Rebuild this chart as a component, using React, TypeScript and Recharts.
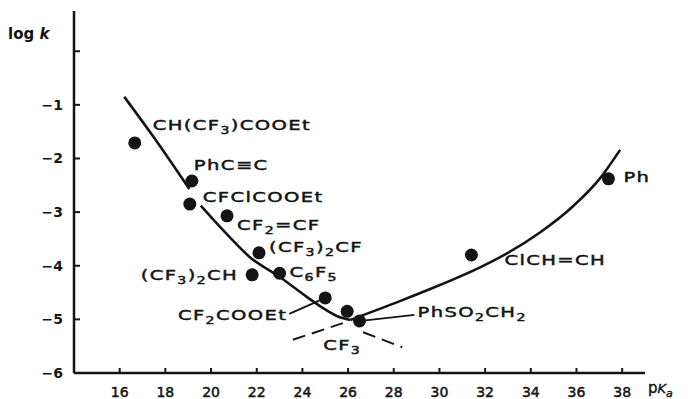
import React from "react";
import { ComposedChart, Line, Scatter, XAxis, YAxis } from "recharts";

// axis ticks
const xTicks = [16, 18, 20, 22, 24, 26, 28, 30, 32, 34, 36, 38];
const yTicks = [0, -1, -2, -3, -4, -5, -6];

// measured compounds ( "_" marks a subscript character )
const compounds = [
  "CH(CF_3)COOEt",
  "PhC≡C",
  "CFClCOOEt",
  "CF_2=CF",
  "(CF_3)_2CF",
  "(CF_3)_2CH",
  "C_6F_5",
  "CF_2COOEt",
  "CF_3",
  "PhSO_2CH_2",
  "ClCH=CH",
  "Ph",
];
const pKa = [16.66, 19.16, 19.07, 20.7, 22.1, 21.8, 23.0, 25.0, 25.96, 26.5, 31.4, 37.4];
const logK = [-1.71, -2.42, -2.85, -3.07, -3.76, -4.17, -4.14, -4.6, -4.85, -5.03, -3.8, -2.38];

// fitted curve
const upperX = [16.2, 17.4, 19.05];
const upperY = [-0.85, -1.55, -2.57];
const leftX = [19.55, 20.6, 21.7, 23.01, 24.19, 24.98, 25.64, 26.1];
const leftY = [-2.88, -3.37, -3.84, -4.21, -4.58, -4.81, -4.96, -5.01];
const rightX = [26.1, 28.27, 30.02, 31.78, 32.96, 34.4, 35.85, 37.03, 37.91];
const rightY = [-5.01, -4.66, -4.36, -4.03, -3.77, -3.38, -2.89, -2.37, -1.84];

// dashed CF3 continuations
const dashLeftX = [23.58, 25.77];
const dashLeftY = [-5.38, -5.07];
const dashRightX = [26.66, 28.37];
const dashRightY = [-5.24, -5.52];

// where each label sits relative to its dot (pixels)
const labelLayout: { dx: number; dy: number; anchor?: string; leader?: boolean }[] = [
  { dx: 18, dy: -18 },
  { dx: 2, dy: -16 },
  { dx: 13, dy: -7 },
  { dx: 10, dy: 9 },
  { dx: 10, dy: -6 },
  { dx: -14, dy: 0, anchor: "end" },
  { dx: 10, dy: -1 },
  { dx: -38, dy: 17, anchor: "end", leader: true },
  { dx: -24, dy: 34 },
  { dx: 58, dy: -9, leader: true },
  { dx: 33, dy: 5 },
  { dx: 15, dy: -2 },
];

const zip = (xs: number[], ys: number[]) => xs.map((x, i) => ({ x, y: ys[i] }));
const points = compounds.map((name, i) => ({ name, idx: i, x: pKa[i], y: logK[i] }));

const INK = "#141414";
const FONT = "'DejaVu Sans', sans-serif";

const Formula = ({ text, x, y, anchor = "start" }: any) => {
  const parts = text.split(/_(.)/);
  const spans: any[] = [];
  let shifted = false;
  parts.forEach((p: string, i: number) => {
    if (!p) return;
    if (i % 2 === 1) {
      spans.push(
        <tspan key={i} dy={shifted ? 0 : 4} fontSize={10.5}>
          {p}
        </tspan>
      );
      shifted = true;
    } else {
      spans.push(
        <tspan key={i} dy={shifted ? -4 : 0}>
          {p}
        </tspan>
      );
      shifted = false;
    }
  });
  return (
    <g transform={`translate(${x},${y}) scale(1.35,1)`}>
      <text
        x={0}
        y={0}
        textAnchor={anchor}
        fontFamily={FONT}
        fontSize={14.5}
        letterSpacing={1}
        fill={INK}
        stroke={INK}
        strokeWidth={0.45}
      >
        {spans}
      </text>
    </g>
  );
};

const renderPoint = (props: any) => {
  const { cx, cy, payload } = props;
  const lay = labelLayout[payload.idx];
  const lx = cx + lay.dx;
  const ly = cy + lay.dy;
  let leader = null;
  if (lay.leader) {
    const ex = lx + (lay.anchor === "end" ? 2 : -3);
    const ey = ly + (lay.anchor === "end" ? -1 : 3);
    const len = Math.hypot(ex - cx, ey - cy);
    leader = (
      <line
        x1={cx + ((ex - cx) / len) * 6}
        y1={cy + ((ey - cy) / len) * 6}
        x2={ex}
        y2={ey}
        stroke={INK}
        strokeWidth={1.8}
      />
    );
  }
  return (
    <g>
      {leader}
      <circle cx={cx} cy={cy} r={6.5} fill={INK} />
      <Formula text={payload.name} x={lx} y={ly + 5} anchor={lay.anchor} />
    </g>
  );
};

const XTick = (props: any) => {
  const { x, y, payload } = props;
  return (
    <g>
      <line x1={x} x2={x} y1={y} y2={y - 5} stroke={INK} strokeWidth={2} />
      <text
        x={x}
        y={y + 24}
        textAnchor="middle"
        fontFamily={FONT}
        fontSize={14}
        fill={INK}
        stroke={INK}
        strokeWidth={0.5}
      >
        {payload.value}
      </text>
    </g>
  );
};

const YTick = (props: any) => {
  const { x, y, payload } = props;
  return (
    <g>
      <line x1={x} x2={x + 6} y1={y} y2={y} stroke={INK} strokeWidth={2} />
      {payload.value !== 0 && (
        <text x={x - 11} y={y + 5} textAnchor="end" fontFamily={FONT} fontSize={14} fontWeight="bold" fill={INK}>
          {"\u2212" + Math.abs(payload.value)}
        </text>
      )}
    </g>
  );
};

const YTitle = (props: any) => {
  const { x, y } = props.viewBox;
  return (
    <text x={x + 8} y={y + 28} fontFamily={FONT} fontSize={15} fontWeight="bold" fill={INK}>
      log <tspan fontStyle="italic">k</tspan>
    </text>
  );
};

const XTitle = (props: any) => {
  const { x, y, width } = props.viewBox;
  return (
    <text x={x + width + 3} y={y + 20} fontFamily={FONT} fontSize={15} fill={INK} stroke={INK} strokeWidth={0.4}>
      p<tspan fontStyle="italic" fontSize={13}>K</tspan>
      <tspan fontStyle="italic" fontSize={11} dy={4}>a</tspan>
    </text>
  );
};

const curve = (data: any[], key: string, dashed = false) => (
  <Line
    key={key}
    data={data}
    dataKey="y"
    type={dashed ? "linear" : "monotone"}
    stroke={INK}
    strokeWidth={dashed ? 2 : 2.6}
    strokeDasharray={dashed ? "13 7" : undefined}
    dot={false}
    activeDot={false}
    isAnimationActive={false}
  />
);

export default function App() {
  return (
    <div style={{ position: "absolute", left: 0, top: 0, background: "#fff" }}>
      <ComposedChart width={688} height={399} margin={{ top: 11, right: 43, left: 0, bottom: 0 }}>
        <XAxis
          type="number"
          dataKey="x"
          domain={[14, 39]}
          ticks={xTicks}
          interval={0}
          height={26}
          tickSize={0}
          tickMargin={0}
          tickLine={false}
          tick={<XTick />}
          axisLine={{ stroke: INK, strokeWidth: 2.5 }}
          label={XTitle}
        />
        <YAxis
          type="number"
          dataKey="y"
          domain={[-6, 0.75]}
          ticks={yTicks}
          interval={0}
          width={74}
          tickSize={0}
          tickMargin={0}
          tickLine={false}
          tick={<YTick />}
          axisLine={{ stroke: INK, strokeWidth: 2.5 }}
          label={YTitle}
        />
        {curve(zip(upperX, upperY), "upper")}
        {curve(zip(leftX, leftY), "left")}
        {curve(zip(rightX, rightY), "right")}
        {curve(zip(dashLeftX, dashLeftY), "dashL", true)}
        {curve(zip(dashRightX, dashRightY), "dashR", true)}
        <Scatter data={points} shape={renderPoint} isAnimationActive={false} />
      </ComposedChart>
    </div>
  );
}
